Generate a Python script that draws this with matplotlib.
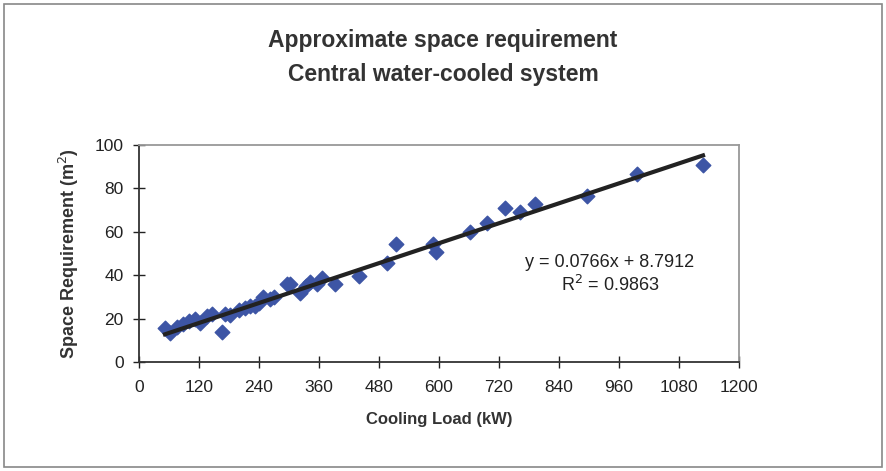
import matplotlib.pyplot as plt
import numpy as np
from matplotlib.patches import Rectangle

plt.rcParams['font.family'] = ['Liberation Sans', 'DejaVu Sans']

# data
cooling_load = [52, 62, 76, 88, 100, 112, 122, 135, 145, 166, 172, 182, 200, 212,
                222, 232, 240, 248, 262, 270, 296, 302, 322, 334, 342, 356, 366,
                392, 440, 496, 514, 588, 594, 662, 696, 732, 762, 792, 896, 996, 1128]
space_req = [15.5, 13.5, 16, 17.5, 19, 20, 18, 21, 22, 14, 22, 21.5, 24, 25,
             26, 26, 27, 30, 29, 30, 36, 36, 32, 35, 37, 36, 38.5,
             36, 39.5, 45.5, 54.5, 54.5, 50.5, 60, 64, 71, 69, 73, 76.5, 86.5, 91]

# trendline from the chart
slope = 0.0766
intercept = 8.7912
r2 = 0.9863

xticks = [0, 120, 240, 360, 480, 600, 720, 840, 960, 1080, 1200]
yticks = [0, 20, 40, 60, 80, 100]

fig = plt.figure(figsize=(8.86, 4.71), dpi=100)
ax = fig.add_axes([139 / 886, 1 - 362 / 471, 600 / 886, 217 / 471])

ax.scatter(cooling_load, space_req, marker='D', s=55, color='#3d55a5',
           edgecolors='#3d55a5', zorder=2)

xs = np.array([min(cooling_load), max(cooling_load)])
ax.plot(xs, slope * xs + intercept, color='#222222', linewidth=3, zorder=3)

ax.text(942, 46, f'y = {slope}x + {intercept}', ha='center', va='center', fontsize=13, color='#222222')
ax.text(942, 35.5, f'R$^2$ = {r2}', ha='center', va='center', fontsize=13, color='#222222')

ax.set_xlim(0, 1200)
ax.set_ylim(0, 100)
ax.set_xticks(xticks)
ax.set_yticks(yticks)
ax.tick_params(direction='inout', length=8, width=1, labelsize=12.5, colors='#222222')
ax.tick_params(axis='x', pad=9)
ax.tick_params(axis='y', pad=7)

for side in ['left', 'bottom']:
    ax.spines[side].set_color('#333333')
    ax.spines[side].set_linewidth(1.3)
for side in ['top', 'right']:
    ax.spines[side].set_color('#999999')
    ax.spines[side].set_linewidth(1.3)

ax.set_xlabel('Cooling Load (kW)', fontsize=12, fontweight='bold', color='#333333', labelpad=12)
ax.set_ylabel('Space Requirement (m$^2$)', fontsize=13, fontweight='bold', color='#333333', labelpad=10)

fig.text(0.5, 1 - 40 / 471, 'Approximate space requirement', ha='center', va='center',
         fontsize=16.5, fontweight='bold', color='#333333')
fig.text(0.5, 1 - 74 / 471, 'Central water-cooled system', ha='center', va='center',
         fontsize=16.5, fontweight='bold', color='#333333')

# outer chart border
fig.patches.append(Rectangle((4 / 886, 4 / 471), 878 / 886, 463 / 471, transform=fig.transFigure,
                             fill=False, edgecolor='#888888', linewidth=1.2))

fig.savefig('out.png', dpi=100)
